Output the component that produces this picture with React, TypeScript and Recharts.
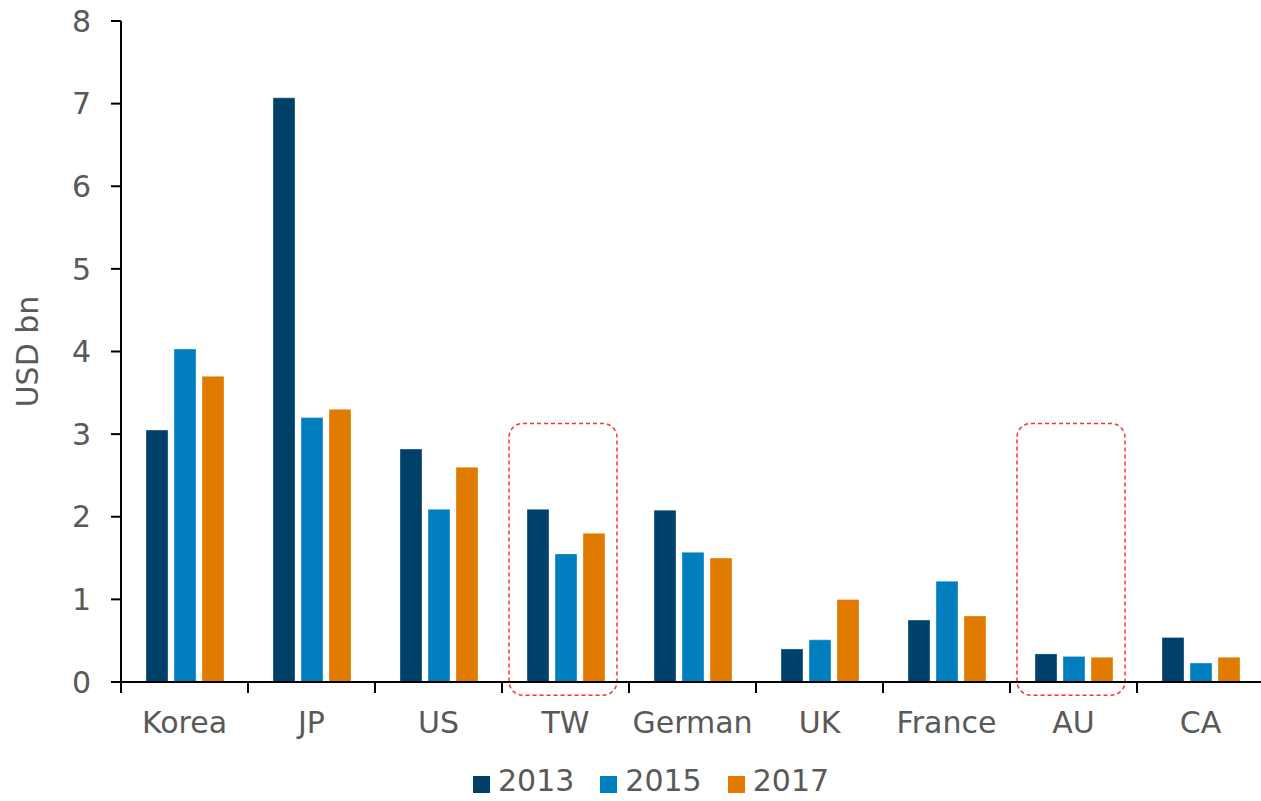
import { BarChart, Bar, XAxis, YAxis, Legend, ReferenceArea } from 'recharts';

const countries = ['Korea', 'JP', 'US', 'TW', 'German', 'UK', 'France', 'AU', 'CA'];
const values2013 = [3.05, 7.07, 2.82, 2.09, 2.08, 0.4, 0.75, 0.34, 0.54];
const values2015 = [4.03, 3.2, 2.09, 1.55, 1.57, 0.51, 1.22, 0.31, 0.23];
const values2017 = [3.7, 3.3, 2.6, 1.8, 1.5, 1.0, 0.8, 0.3, 0.3];
const yTicks = [0, 1, 2, 3, 4, 5, 6, 7, 8];
const highlighted = ['TW', 'AU'];

const series = [
  { key: 'y2013', name: '2013', color: '#00416A' },
  { key: 'y2015', name: '2015', color: '#007EBD' },
  { key: 'y2017', name: '2017', color: '#E07B00' },
];

const data = countries.map((c, i) => ({
  country: c,
  y2013: values2013[i],
  y2015: values2015[i],
  y2017: values2017[i],
}));

const FONT = '"DejaVu Sans", Verdana, sans-serif';
const TEXT = '#595959';
const FS = 30;

function CategoryTick(props: any) {
  const { x, y, payload, index } = props;
  const off = payload && payload.offset != null ? payload.offset : 63.5;
  return (
    <g>
      <line x1={x - off} x2={x - off} y1={y} y2={y + 11} stroke="#000" strokeWidth={2} />
      {index === countries.length - 1 && (
        <line x1={x + off} x2={x + off} y1={y} y2={y + 11} stroke="#000" strokeWidth={2} />
      )}
      <text x={x} y={y + 51} textAnchor="middle" fill={TEXT} fontSize={FS} fontFamily={FONT}>
        {payload.value}
      </text>
    </g>
  );
}

function HighlightBox(props: any) {
  const { x, y, width, height } = props;
  return (
    <rect
      x={x + 7}
      y={y}
      width={width - 19}
      height={height}
      rx={14}
      ry={14}
      fill="none"
      stroke="#FF3030"
      strokeWidth={1.5}
      strokeDasharray="4 3"
    />
  );
}

function LegendContent() {
  return (
    <div style={{ height: 40, display: 'flex', alignItems: 'center', paddingLeft: 473, fontFamily: FONT }}>
      {series.map((s) => (
        <div key={s.key} style={{ display: 'flex', alignItems: 'center', marginRight: 26 }}>
          <span style={{ width: 17, height: 17, background: s.color, display: 'inline-block', marginRight: 8, marginTop: 6 }} />
          <span style={{ fontSize: FS, color: TEXT, lineHeight: '40px' }}>{s.name}</span>
        </div>
      ))}
    </div>
  );
}

export default function App() {
  return (
    <div style={{ position: 'absolute', left: 0, top: 0, width: 1261, height: 801, overflow: 'hidden', background: '#fff' }}>
      <BarChart
        width={1264}
        height={801}
        data={data}
        margin={{ top: 21, right: 0, bottom: 0, left: 0 }}
        barSize={22}
        barGap={6}
      >
        <YAxis
          width={121}
          domain={[0, 8]}
          ticks={yTicks}
          interval={0}
          tickSize={10}
          tickMargin={20}
          axisLine={{ stroke: '#000', strokeWidth: 2 }}
          tickLine={{ stroke: '#000', strokeWidth: 2 }}
          tick={{ fill: TEXT, fontSize: FS, fontFamily: FONT }}
          label={{
            value: 'USD bn',
            angle: -90,
            position: 'insideLeft',
            dx: 22,
            style: { fill: TEXT, fontSize: FS, fontFamily: FONT, textAnchor: 'middle' },
          }}
        />
        <XAxis
          dataKey="country"
          height={79}
          interval={0}
          tickSize={0}
          tickMargin={0}
          tickLine={false}
          axisLine={{ stroke: '#000', strokeWidth: 2 }}
          tick={<CategoryTick />}
        />
        <Legend verticalAlign="bottom" align="left" height={40} content={<LegendContent />} />
        {series.map((s) => (
          <Bar
            key={s.key}
            dataKey={s.key}
            name={s.name}
            fill={s.color}
            stroke="#ffffff"
            strokeOpacity={0.35}
            strokeWidth={1}
            isAnimationActive={false}
          />
        ))}
        {highlighted.map((c) => (
          <ReferenceArea
            key={c}
            x1={c}
            x2={c}
            y1={-0.16}
            y2={3.13}
            ifOverflow="visible"
            shape={<HighlightBox />}
          />
        ))}
      </BarChart>
    </div>
  );
}
